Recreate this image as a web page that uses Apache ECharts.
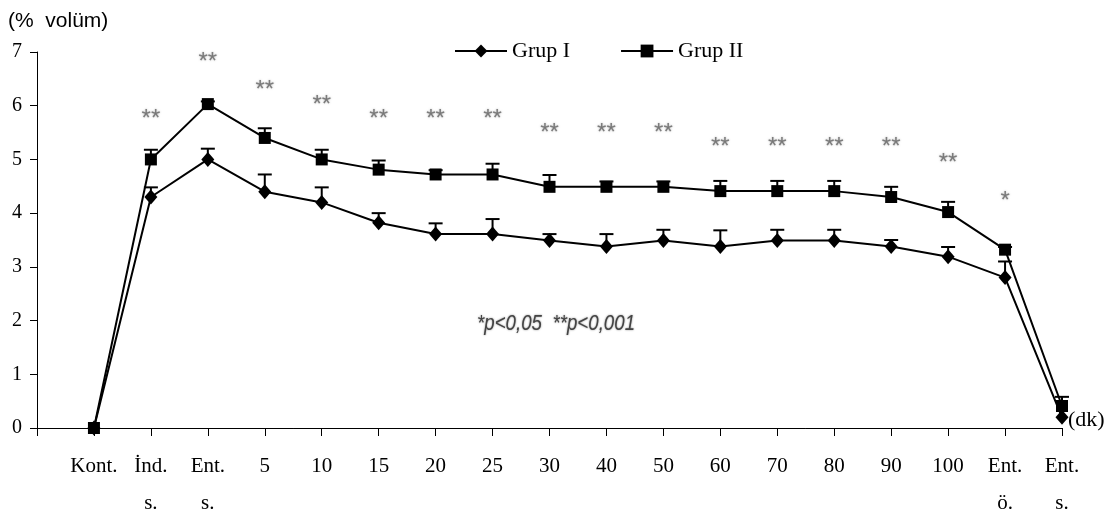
<!DOCTYPE html>
<html>
<head>
<meta charset="utf-8">
<script src="https://cdn.jsdelivr.net/npm/echarts@6/dist/echarts.min.js"></script>
<style>
html,body{margin:0;padding:0;background:#fff;overflow:hidden;}
#chart{width:1117px;height:516px;}
</style>
</head>
<body>
<div id="chart"></div>
<script>
// Categories (first empty slot = origin gap before "Kont.")
var categories = ['', 'Kont.', 'İnd.\ns.', 'Ent.\ns.', '5', '10', '15', '20', '25', '30', '40', '50', '60', '70', '80', '90', '100', 'Ent.\nö.', 'Ent.\ns.'];
var grup1 = ['-', 0, 4.3, 5.0, 4.4, 4.2, 3.82, 3.61, 3.61, 3.49, 3.38, 3.49, 3.38, 3.49, 3.49, 3.38, 3.19, 2.8, 0.2];
var grup1Err = [0, 0, 0.18, 0.2, 0.32, 0.28, 0.18, 0.2, 0.28, 0.12, 0.23, 0.2, 0.3, 0.2, 0.2, 0.12, 0.18, 0.3, 0];
var grup2 = ['-', 0, 5.0, 6.03, 5.4, 5.0, 4.81, 4.72, 4.72, 4.49, 4.49, 4.49, 4.41, 4.41, 4.41, 4.3, 4.02, 3.32, 0.41];
var grup2Err = [0, 0, 0.18, 0.05, 0.18, 0.18, 0.17, 0.08, 0.2, 0.22, 0.1, 0.1, 0.19, 0.19, 0.19, 0.19, 0.19, 0.05, 0.17];
var sigText = ['', '', '**', '**', '**', '**', '**', '**', '**', '**', '**', '**', '**', '**', '**', '**', '**', '*', ''];
var sigY = [null, null, 5.75, 6.81, 6.29, 6.0, 5.75, 5.75, 5.75, 5.49, 5.49, 5.49, 5.23, 5.23, 5.23, 5.23, 4.93, 4.21, null];
var yTicks = [0, 1, 2, 3, 4, 5, 6, 7];

var serif = '"Liberation Serif", "Times New Roman", serif';

function errData(vals, errs) {
  var out = [];
  for (var i = 0; i < vals.length; i++) {
    if (vals[i] !== '-' && errs[i] > 0) out.push([i, vals[i], errs[i]]);
  }
  return out;
}
function sigData() {
  var out = [];
  for (var i = 0; i < sigText.length; i++) {
    if (sigY[i] !== null) out.push([i, sigY[i], sigText[i]]);
  }
  return out;
}
function renderErr(params, api) {
  var idx = api.value(0), v = api.value(1), e = api.value(2);
  var p0 = api.coord([idx, v]);
  var p1 = api.coord([idx, v + e]);
  var hw = 7;
  return {
    type: 'group',
    children: [
      {type: 'line', shape: {x1: p0[0], y1: p0[1], x2: p1[0], y2: p1[1]}, style: {stroke: '#000', lineWidth: 2}},
      {type: 'line', shape: {x1: p1[0] - hw, y1: p1[1], x2: p1[0] + hw, y2: p1[1]}, style: {stroke: '#000', lineWidth: 2}}
    ]
  };
}

var chart = echarts.init(document.getElementById('chart'), null, {renderer: 'canvas'});
chart.setOption({
  animation: false,
  backgroundColor: '#fff',
  grid: {left: 37, right: 55, top: 52, bottom: 88, containLabel: false, outerBoundsMode: 'none'},
  legend: {
    data: ['Grup I', 'Grup II'],
    left: 449, top: 35,
    itemWidth: 52, itemHeight: 16, itemGap: 50,
    textStyle: {fontFamily: serif, fontSize: 22, color: '#000'}
  },
  xAxis: {
    type: 'category',
    data: categories,
    boundaryGap: false,
    axisLine: {lineStyle: {color: '#000', width: 1}},
    axisTick: {show: true, length: 8, lineStyle: {color: '#000'}, interval: 0},
    axisLabel: {interval: 0, margin: 20, fontFamily: serif, fontSize: 21, color: '#000', lineHeight: 37},
    splitLine: {show: false}
  },
  yAxis: {
    type: 'value',
    min: yTicks[0], max: yTicks[yTicks.length - 1], interval: 1,
    axisLine: {show: true, lineStyle: {color: '#000', width: 1}},
    axisTick: {show: true, length: 7, lineStyle: {color: '#000'}},
    axisLabel: {margin: 15, fontFamily: serif, fontSize: 20, color: '#000'},
    splitLine: {show: false}
  },
  graphic: [
    {type: 'text', left: 8, top: 11, style: {text: '(%  volüm)', font: '21px "Liberation Sans", Arial, sans-serif', fill: '#000'}},
    {type: 'text', left: 1068, top: 409, style: {text: '(dk)', font: '22px ' + serif, fill: '#000'}},
    {type: 'text', x: 477, y: 313, scaleX: 0.85, style: {text: '*p<0,05  **p<0,001', font: 'italic 22px "Liberation Sans", sans-serif', fill: '#444', textShadowColor: '#888', textShadowBlur: 2}}
  ],
  series: [
    {
      name: 'Grup I', type: 'line', data: grup1,
      symbol: 'diamond', symbolSize: [13, 15],
      itemStyle: {color: '#000'}, lineStyle: {color: '#000', width: 2}, z: 3
    },
    {
      name: 'Grup II', type: 'line', data: grup2,
      symbol: 'rect', symbolSize: 12,
      itemStyle: {color: '#000'}, lineStyle: {color: '#000', width: 2}, z: 3
    },
    {
      name: 'err1', type: 'custom', data: errData(grup1, grup1Err), renderItem: renderErr, z: 2,
      encode: {x: 0, y: [1, 2]}
    },
    {
      name: 'err2', type: 'custom', data: errData(grup2, grup2Err), renderItem: renderErr, z: 2,
      encode: {x: 0, y: [1, 2]}
    },
    {
      name: 'sig', type: 'scatter', data: sigData(), symbolSize: 0, silent: true,
      label: {
        show: true, position: 'inside',
        formatter: function (p) { return p.data[2]; },
        fontFamily: '"Liberation Sans", Arial, sans-serif', fontSize: 24, color: '#666',
        textShadowColor: '#999', textShadowBlur: 2
      }
    }
  ]
});
</script>
</body>
</html>
